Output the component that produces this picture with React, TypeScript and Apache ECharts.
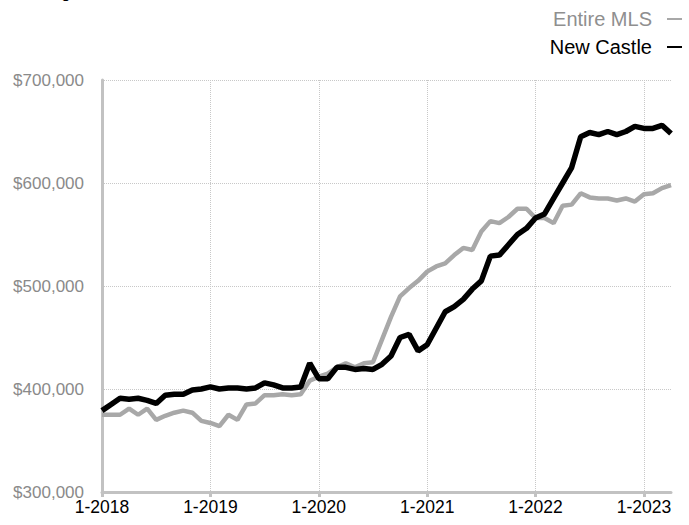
import React, { useEffect, useRef } from "react";
import * as echarts from "echarts";

const title = "Rolling 12-Month Calculation";
const seriesNames = ["Entire MLS", "New Castle"];
const yearLabels = ["1-2018", "1-2019", "1-2020", "1-2021", "1-2022", "1-2023"];

// month index 0 = 1-2018 ... 63 = 4-2023
const entireMLS = [
  375000, 375000, 375000, 381000, 375000, 381000, 370000, 374000, 377000, 379000,
  377000, 369000, 367000, 364000, 375000, 370000, 385000, 386000, 394000, 394000,
  395000, 394000, 395000, 408000, 412000, 415000, 421000, 425000, 421000, 425000,
  426000, 448000, 470000, 490000, 498000, 505000, 514000, 519000, 522000, 530000,
  537000, 535000, 553000, 563000, 561000, 567000, 575000, 575000, 566000, 566000,
  561000, 578000, 579000, 590000, 586000, 585000, 585000, 583000, 585000, 582000,
  589000, 590000, 595000, 598000,
];

const newCastle = [
  379000, 385000, 391000, 390000, 391000, 389000, 386000, 394000, 395000, 395000,
  399000, 400000, 402000, 400000, 401000, 401000, 400000, 401000, 406000, 404000,
  401000, 401000, 402000, 425000, 410000, 410000, 421000, 421000, 419000, 420000,
  419000, 424000, 432000, 450000, 453000, 437000, 443000, 459000, 475000, 480000,
  487000, 497000, 505000, 529000, 530000, 540000, 550000, 556000, 566000, 570000,
  585000, 600000, 615000, 645000, 649000, 647000, 650000, 647000, 650000, 655000,
  653000, 653000, 656000, 648000,
];

export default function App() {
  const ref = useRef<HTMLDivElement>(null);

  useEffect(() => {
    if (!ref.current) return;
    const chart = echarts.init(ref.current, undefined, { renderer: "svg" });
    const font = "'Liberation Sans', Arial, Helvetica, sans-serif";
    const axisGray = "#c2c2c2";
    const gridGray = "#c8c8c8";

    chart.setOption({
      animation: false,
      textStyle: { fontFamily: font },
      grid: { left: 102, right: 18, top: 80, bottom: 33, containLabel: false },
      legend: {
        orient: "vertical",
        align: "right",
        right: 2,
        top: 3,
        itemWidth: 15,
        itemHeight: 2,
        itemGap: 6,
        icon: "rect",
        selectedMode: false,
        textStyle: { fontSize: 20, lineHeight: 22, padding: [0, 10, 0, 0] },
        data: [
          { name: seriesNames[0], textStyle: { color: "#8f8f8f" }, itemStyle: { color: "#a8a8a8" } },
          { name: seriesNames[1], textStyle: { color: "#000000" }, itemStyle: { color: "#000000" } },
        ],
      },
      graphic: [
        {
          type: "text",
          left: 20,
          top: -17,
          style: { text: title, fontSize: 16.5, fill: "#000", fontFamily: font },
        },
      ],
      xAxis: {
        type: "value",
        min: 0,
        max: 63,
        interval: 12,
        axisLine: { show: true, lineStyle: { color: axisGray, width: 3 } },
        axisTick: {
          show: true,
          length: 5,
          customValues: [0, 12, 24, 36, 48, 60],
          lineStyle: { color: axisGray, width: 3 },
        },
        axisLabel: {
          color: "#000",
          fontSize: 17.5,
          margin: 6,
          customValues: [0, 12, 24, 36, 48, 60],
          formatter: (v: number) => (v % 12 === 0 ? yearLabels[v / 12] : ""),
        },
        splitLine: { show: true, lineStyle: { color: gridGray, type: "dotted", width: 1 } },
      },
      yAxis: {
        type: "value",
        min: 300000,
        max: 700000,
        interval: 100000,
        axisLine: { show: true, lineStyle: { color: axisGray, width: 3 } },
        axisTick: { show: false },
        axisLabel: {
          color: "#8a8a8a",
          fontSize: 17,
          margin: 18,
          formatter: (v: number) => "$" + v.toLocaleString("en-US"),
        },
        splitLine: { show: true, lineStyle: { color: gridGray, type: "dotted", width: 1 } },
      },
      series: [
        {
          name: seriesNames[0],
          type: "line",
          showSymbol: false,
          data: entireMLS.map((v, i) => [i, v]),
          lineStyle: { color: "#a8a8a8", width: 4.5 },
          itemStyle: { color: "#a8a8a8" },
          z: 2,
        },
        {
          name: seriesNames[1],
          type: "line",
          showSymbol: false,
          data: newCastle.map((v, i) => [i, v]),
          lineStyle: { color: "#000", width: 5.5 },
          itemStyle: { color: "#000" },
          z: 3,
        },
      ],
    });

    return () => chart.dispose();
  }, []);

  return <div ref={ref} style={{ width: 689, height: 525, position: "absolute", left: 0, top: 0 }} />;
}
